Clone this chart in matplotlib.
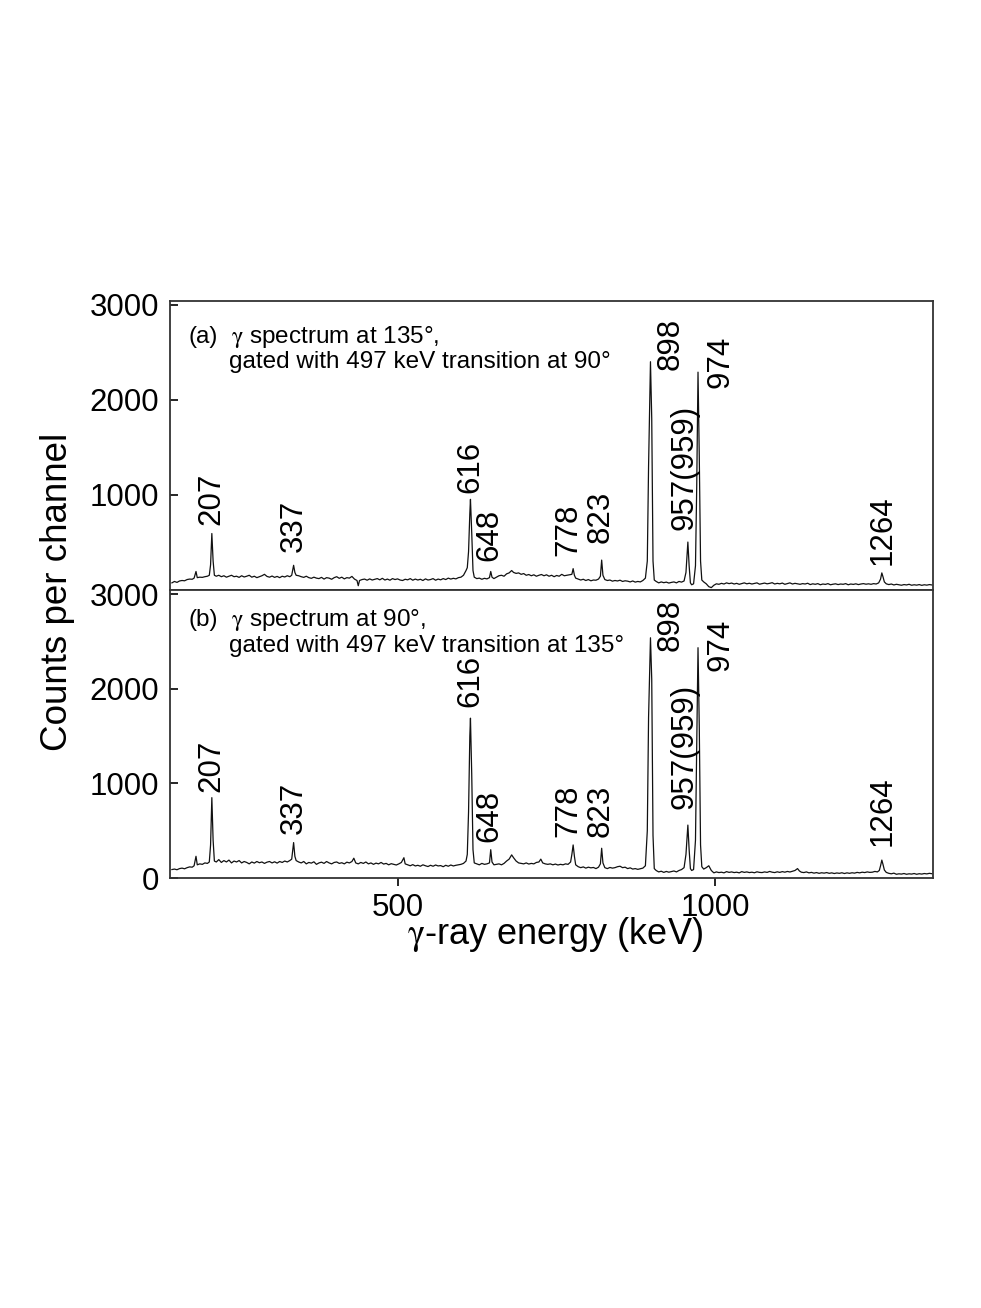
import numpy as np
import matplotlib
matplotlib.use("Agg")
import matplotlib.pyplot as plt

plt.rcParams['font.family'] = ['Liberation Sans', 'DejaVu Sans']
plt.rcParams['mathtext.fontset'] = 'stix'

energy_a = [143, 147, 151, 155, 159, 163, 167, 171, 175, 178, 181, 183, 187, 191, 195, 199, 202, 204, 206, 208,
            210, 213, 217, 221, 225, 229, 233, 237, 241, 245, 249, 253, 257, 261, 265, 269, 273, 277, 281, 285,
            289, 293, 297, 301, 305, 309, 313, 317, 321, 325, 329, 332, 335, 337, 339, 343, 347, 351, 355, 359,
            363, 367, 371, 375, 379, 383, 387, 391, 395, 399, 403, 407, 411, 415, 419, 423, 427, 431, 435, 437,
            439, 443, 447, 451, 455, 459, 463, 467, 471, 475, 479, 483, 487, 491, 495, 499, 503, 507, 511, 515,
            519, 523, 527, 531, 535, 539, 543, 547, 551, 555, 559, 563, 567, 571, 575, 579, 583, 587, 591, 595,
            599, 603, 607, 609, 611, 613, 614, 616, 618, 620, 624, 628, 632, 636, 640, 644, 646, 648, 651, 655,
            659, 663, 667, 671, 675, 679, 682, 686, 690, 694, 698, 702, 706, 710, 714, 718, 722, 726, 730, 734,
            738, 742, 746, 750, 754, 758, 762, 766, 770, 774, 776, 778, 780, 784, 788, 792, 796, 800, 804, 808,
            812, 816, 819, 821, 823, 826, 830, 834, 838, 842, 846, 850, 854, 858, 862, 866, 870, 874, 878, 882,
            886, 890, 893, 895, 898, 900, 902, 904, 907, 911, 915, 919, 923, 927, 931, 935, 939, 943, 947, 951,
            954, 957, 959, 961, 963, 966, 969, 971, 973, 975, 977, 979, 982, 986, 990, 994, 998, 1002, 1006, 1010,
            1014, 1018, 1022, 1026, 1030, 1034, 1038, 1042, 1046, 1050, 1054, 1058, 1062, 1066, 1070, 1074, 1078,
            1082, 1086, 1090, 1094, 1098, 1102, 1106, 1110, 1114, 1118, 1122, 1126, 1130, 1134, 1138, 1142, 1146,
            1150, 1154, 1158, 1162, 1166, 1170, 1174, 1178, 1182, 1186, 1190, 1194, 1198, 1202, 1206, 1210, 1214,
            1218, 1222, 1226, 1230, 1234, 1238, 1242, 1246, 1250, 1254, 1258, 1261, 1263, 1265, 1267, 1270, 1274,
            1278, 1282, 1286, 1290, 1294, 1298, 1302, 1306, 1310, 1314, 1318, 1322, 1326, 1330, 1334, 1338, 1342]
counts_a = [70, 85, 75, 90, 95, 92, 105, 110, 108, 120, 190, 125, 130, 128, 135, 140, 150, 260, 590, 300,
            150, 140, 150, 135, 145, 130, 140, 150, 135, 140, 128, 145, 132, 140, 150, 130, 140, 125, 135, 145,
            160, 138, 130, 142, 128, 138, 125, 140, 132, 145, 135, 150, 255, 180, 150, 145, 135, 128, 140, 125,
            118, 130, 120, 115, 128, 110, 125, 120, 108, 125, 135, 118, 130, 112, 125, 120, 138, 110, 95, 40,
            95, 105, 110, 98, 112, 100, 108, 115, 102, 118, 100, 110, 98, 115, 105, 112, 100, 95, 108, 102,
            115, 98, 110, 100, 108, 95, 112, 100, 105, 115, 98, 110, 102, 115, 105, 120, 110, 118, 112, 125,
            130, 150, 200, 230, 400, 800, 950, 600, 200, 130, 115, 120, 108, 118, 112, 125, 190, 130, 115, 130,
            145, 150, 140, 165, 175, 200, 180, 170, 175, 160, 168, 150, 158, 145, 155, 140, 150, 158, 145, 155,
            140, 150, 135, 148, 140, 160, 145, 150, 155, 160, 220, 150, 120, 110, 100, 108, 95, 105, 92, 100,
            98, 110, 140, 310, 150, 105, 95, 100, 88, 95, 90, 98, 85, 92, 88, 80, 90, 78, 85, 80,
            95, 120, 300, 1300, 2400, 1800, 300, 100, 85, 70, 80, 72, 78, 68, 75, 80, 70, 85, 78, 90,
            180, 500, 250, 70, 50, 60, 250, 1100, 2290, 1400, 300, 100, 80, 60, 30, 20, 45, 60, 55, 65,
            58, 70, 62, 68, 58, 65, 55, 62, 70, 60, 66, 58, 64, 70, 56, 62, 68,
            60, 65, 72, 58, 65, 60, 68, 55, 62, 70, 58, 65, 60, 55, 62, 58, 66,
            52, 60, 55, 62, 50, 58, 54, 62, 50, 56, 60, 52, 58, 55, 62, 50, 58,
            54, 60, 52, 58, 62, 56, 60, 55, 62, 58, 70, 110, 175, 130, 80, 60, 52,
            58, 48, 55, 50, 45, 52, 48, 55, 45, 50, 46, 52, 44, 50, 46, 52, 48]

energy_b = [143, 147, 151, 155, 159, 163, 167, 171, 175, 178, 181, 183, 187, 191, 195, 199, 202, 204, 206, 208,
            210, 213, 217, 221, 225, 229, 233, 237, 241, 245, 249, 253, 257, 261, 265, 269, 273, 277, 281, 285,
            289, 293, 297, 301, 305, 309, 313, 317, 321, 325, 329, 332, 335, 337, 339, 343, 347, 351, 355, 359,
            363, 367, 371, 375, 379, 383, 387, 391, 395, 399, 403, 407, 411, 415, 419, 423, 427, 430, 433, 437,
            441, 445, 449, 453, 457, 461, 465, 469, 473, 477, 481, 485, 489, 493, 497, 501, 505, 509, 511, 515,
            519, 523, 527, 531, 535, 539, 543, 547, 551, 555, 559, 563, 567, 571, 575, 579, 583, 587, 591, 595,
            599, 603, 607, 609, 611, 613, 614, 616, 618, 620, 624, 628, 632, 636, 640, 644, 646, 648, 651, 655,
            659, 663, 667, 671, 675, 679, 682, 686, 690, 694, 698, 702, 706, 710, 714, 718, 722, 725, 728, 732,
            736, 740, 744, 748, 752, 756, 760, 764, 768, 772, 774, 776, 778, 780, 784, 788, 792, 796, 800, 804,
            808, 812, 816, 819, 821, 823, 826, 830, 834, 838, 842, 846, 850, 854, 858, 862, 866, 870, 874, 878,
            882, 886, 890, 893, 895, 898, 900, 902, 904, 907, 911, 915, 919, 923, 927, 931, 935, 939, 943, 947,
            951, 954, 957, 959, 961, 963, 966, 969, 971, 973, 975, 977, 979, 982, 986, 990, 994, 998, 1002, 1006,
            1010, 1014, 1018, 1022, 1026, 1030, 1034, 1038, 1042, 1046, 1050, 1054, 1058, 1062, 1066, 1070, 1074,
            1078, 1082, 1086, 1090, 1094, 1098, 1102, 1106, 1110, 1114, 1118, 1122, 1126, 1130, 1133, 1136, 1140,
            1144, 1148, 1152, 1156, 1160, 1164, 1168, 1172, 1176, 1180, 1184, 1188, 1192, 1196, 1200, 1204, 1208,
            1212, 1216, 1220, 1224, 1228, 1232, 1236, 1240, 1244, 1248, 1252, 1256, 1259, 1261, 1263, 1265, 1267,
            1270, 1274, 1278, 1282, 1286, 1290, 1294, 1298, 1302, 1306, 1310, 1314, 1318, 1322, 1326, 1330, 1334,
            1338, 1342]
counts_b = [90, 95, 88, 100, 105, 98, 110, 118, 115, 130, 230, 140, 150, 145, 160, 155, 170, 350, 850, 400,
            180, 170, 195, 165, 185, 170, 190, 160, 180, 170, 185, 160, 175, 165, 150, 170, 158, 175, 162, 170,
            155, 168, 175, 160, 172, 158, 175, 165, 180, 170, 185, 200, 375, 230, 185, 170, 160, 175, 150, 165,
            158, 172, 145, 160, 168, 155, 175, 160, 150, 165, 170, 155, 162, 150, 168, 160, 175, 210, 160, 150,
            165, 155, 170, 150, 160, 145, 158, 150, 165, 148, 155, 140, 152, 145, 138, 150, 165, 215, 150, 140,
            130, 142, 128, 135, 125, 140, 130, 122, 135, 125, 138, 128, 132, 120, 135, 125, 138, 128, 135, 140,
            145, 155, 180, 250, 700, 1500, 1690, 1100, 300, 160, 150, 140, 155, 145, 150, 160, 300, 170, 140, 145,
            150, 140, 155, 180, 200, 245, 215, 180, 160, 155, 150, 160, 148, 155, 150, 165, 170, 200, 160, 150,
            145, 150, 140, 148, 138, 145, 140, 150, 145, 170, 250, 350, 230, 140, 120, 110, 118, 105, 115, 108,
            112, 100, 115, 150, 315, 160, 110, 100, 112, 105, 110, 120, 125, 110, 115, 100, 108, 95, 100, 92,
            98, 105, 130, 500, 1700, 2540, 2100, 450, 100, 80, 65, 72, 60, 70, 62, 68, 75, 65, 80, 90,
            110, 250, 560, 300, 100, 80, 90, 400, 1400, 2435, 1600, 350, 120, 95, 110, 130, 80, 55, 65, 58,
            62, 55, 68, 60, 65, 58, 62, 55, 68, 60, 65, 58, 62, 56, 66, 60, 58,
            65, 60, 70, 62, 58, 66, 60, 68, 62, 70, 64, 72, 80, 100, 75, 62, 58,
            65, 55, 60, 52, 58, 50, 56, 52, 58, 50, 55, 48, 54, 50, 56, 48, 55,
            50, 56, 52, 60, 55, 62, 58, 65, 60, 62, 70, 65, 80, 130, 190, 140, 85,
            60, 50, 45, 52, 40, 45, 42, 48, 40, 45, 42, 48, 40, 46, 42, 48, 44,
            50, 46]

# peak labels: text, energy position, counts position of label bottom
labels = ['207', '337', '616', '648', '778', '823', '898', '957(959)', '974', '1264']
label_x = [206, 336, 614, 644, 769, 820, 930, 952, 1009, 1264]
label_y_a = [684, 393, 1020, 298, 350, 491, 2316, 632, 2123, 263]
label_y_b = [905, 465, 1803, 377, 430, 430, 2400, 729, 2189, 341]

panel_a = ['(a)', '$\\mathrm{\\gamma}$ spectrum at 135°,', 'gated with 497 keV transition at 90°']
panel_b = ['(b)', '$\\mathrm{\\gamma}$ spectrum at 90°,', 'gated with 497 keV transition at 135°']

fig = plt.figure(figsize=(9.81, 13.08), dpi=100)
ax_a = fig.add_axes([0.1733, 0.5493, 0.7773, 0.2206])
ax_b = fig.add_axes([0.1733, 0.3287, 0.7773, 0.2206])

for ax, e, c, ly, titles, yt, row1, row2 in [
        (ax_a, energy_a, counts_a, label_y_a, panel_a, [1000, 2000, 3000], 0.854, 0.768),
        (ax_b, energy_b, counts_b, label_y_b, panel_b, [0, 1000, 2000, 3000], 0.872, 0.785)]:
    ax.plot(e, c, color='#111111', linewidth=0.9)
    ax.set_xlim(140, 1343)
    ax.set_xticks([500, 1000])
    ax.set_yticks(yt)
    for sp in ax.spines.values():
        sp.set_linewidth(1.3)
        sp.set_color('#333333')
    ax.tick_params(axis='y', direction='in', length=6, width=1.2, labelsize=22.5, pad=8)
    ax.tick_params(axis='x', direction='out', length=6, width=1.2, labelsize=22.5, pad=5)
    for t, x, y in zip(labels, label_x, ly):
        ax.text(x, y, t, rotation=90, ha='center', va='bottom', fontsize=22.5)
    ax.text(0.0236, row1, titles[0], transform=ax.transAxes, fontsize=17.5, va='baseline')
    ax.text(0.0800, row1, titles[1], transform=ax.transAxes, fontsize=17.5, va='baseline')
    ax.text(0.0770, row2, titles[2], transform=ax.transAxes, fontsize=17.5, va='baseline')

ax_a.set_ylim(0, 3040)
ax_b.set_ylim(0, 3050)
ax_a.tick_params(axis='x', labelbottom=False)

fig.text(58 / 981, 1 - 592 / 1308, 'Counts per channel', rotation=90, ha='center', va='center', fontsize=26.5)
fig.text(555 / 981, 1 - 935 / 1308, '$\\mathrm{\\gamma}$-ray energy (keV)', ha='center', va='center', fontsize=26)

plt.savefig('out.png', dpi=100)
plt.close()
